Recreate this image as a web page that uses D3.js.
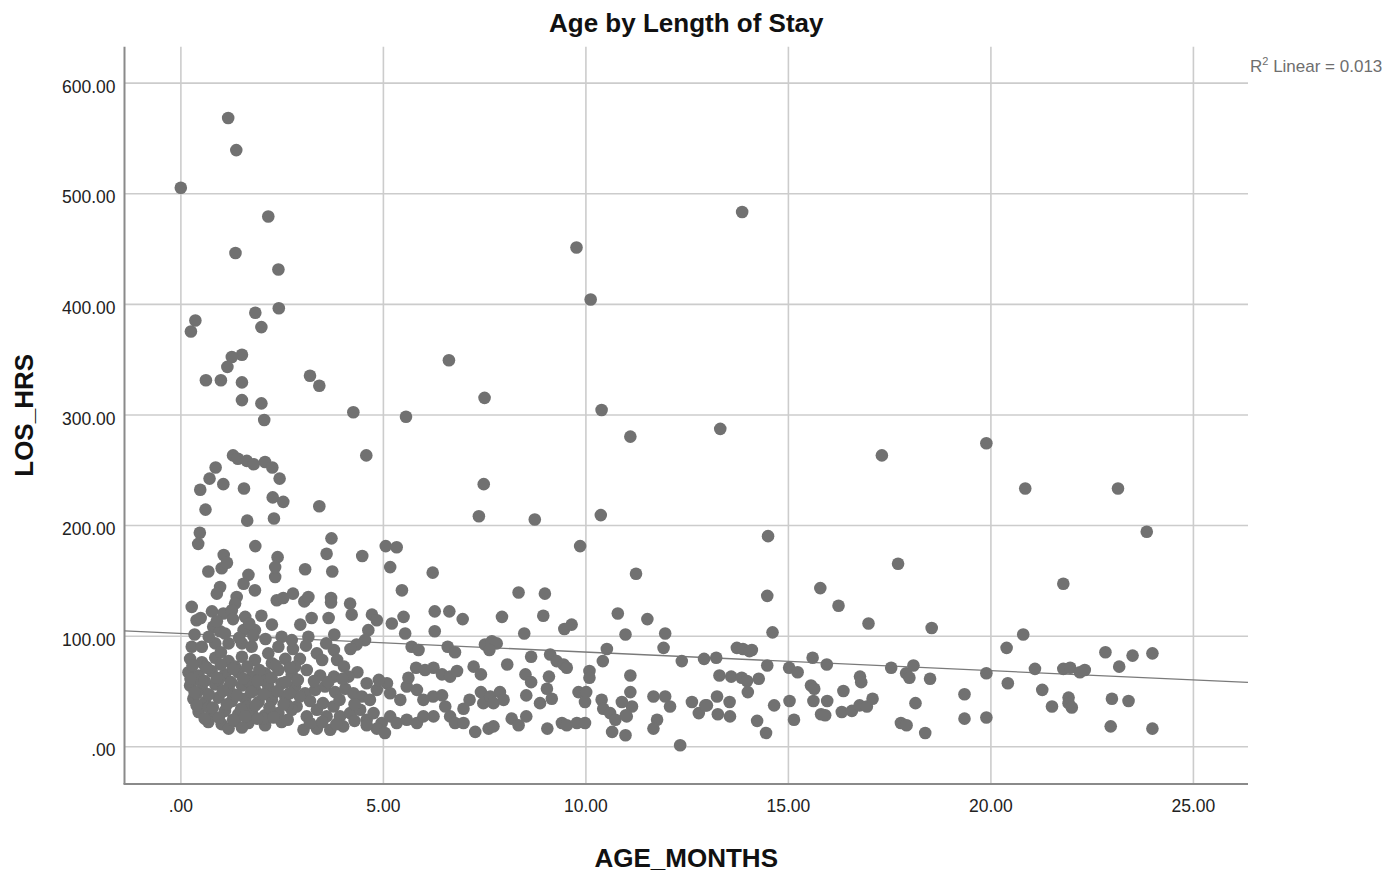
<!doctype html>
<html>
<head>
<meta charset="utf-8"/>
<title>Age by Length of Stay</title>
<script src="https://d3js.org/d3.v7.min.js"></script>
<style>
body { margin:0; background:#fff; }
text { font-family: "Liberation Sans", Arial, sans-serif; }
</style>
</head>
<body>
<script>
// tick values
var xTicks = [0, 5, 10, 15, 20, 25];
var yTicks = [0, 100, 200, 300, 400, 500, 600];

// fit line (R2 linear = 0.013)
var fitIntercept = 102.0;
var fitSlope = -1.68;
var r2Text = "0.013";

// [AGE_MONTHS, LOS_HRS]
var highCases = [
 [1.18,568],[1.38,539],[0.01,505],[2.17,479],[1.36,446],[2.42,431],[2.43,396],[1.85,392],[2.0,379],
 [0.37,385],[0.26,375],[1.52,354],[1.27,352],[1.16,343],[0.63,331],[1.0,331],[1.52,329],[3.2,335],
 [3.43,326],[1.52,313],[2.0,310],[2.07,295],[4.27,302],[5.57,298],[4.59,263],[1.30,263],[1.42,260],
 [1.64,258],[1.81,255],[2.09,257],[2.27,252],[2.45,242],[0.87,252],[0.72,242],[1.06,237],[0.49,232],
 [1.57,233],[2.28,225],[2.54,221],[3.43,217],[0.62,214],[1.65,204],[2.31,206],[0.48,193],[0.44,183],
 [1.85,181],[3.73,188],[3.61,174],[1.07,173],[2.40,171],[4.49,172],[5.07,181],[5.34,180],
 [13.87,483],[9.78,451],[10.13,404],[6.63,349],[7.51,315],[10.40,304],[11.11,280],[13.33,287],
 [17.32,263],[19.9,274],[7.49,237],[7.37,208],[8.75,205],[10.38,209],[9.87,181],[14.51,190],[17.72,165],
 [20.86,233],[23.15,233],[23.86,194],[21.8,147]
];

var olderCases = [
 [20.81,101],[20.4,89],[22.84,85],[23.51,82],[24.0,84],[21.1,70],[21.8,70],[21.97,71],[22.21,67],
 [22.33,69],[23.18,72],[20.43,57],[21.28,51],[21.52,36],[21.93,44],[21.93,39],[22.01,35],[23.0,43],
 [23.41,41],[22.97,18],[24.0,16],[19.9,66],[19.9,26],[19.36,25],[19.36,47],
 [14.49,136],[15.8,143],[16.25,127],[16.99,111],[18.55,107],[14.62,103],[13.74,89],[13.89,88],
 [14.05,86],[14.11,87],[12.93,79],[13.23,80],[14.49,73],[15.03,71],[15.24,67],[15.61,80],[15.96,74],
 [17.55,71],[17.92,66],[18.0,62],[18.1,73],[18.51,61],[13.31,64],[13.6,63],[13.86,62],[13.99,59],
 [14.28,61],[14.01,49],[15.57,55],[15.65,52],[16.78,63],[16.81,58],[16.37,50],[13.25,45],[13.56,40],
 [13.0,37],[12.8,30],[13.27,29],[13.57,27],[14.66,37],[15.04,41],[15.63,41],[15.97,41],[15.82,29],
 [15.92,28],[16.33,31],[16.58,32],[16.77,37],[16.95,36],[17.09,43],[18.15,39],[15.15,24],[14.24,23],
 [14.46,12],[17.79,21],[17.93,19],[18.39,12]
];

var midCases = [
 [6.23,157],[8.35,139],[9.0,138],[11.25,156],[6.28,122],[6.64,122],[6.97,115],[7.94,117],[8.96,118],
 [9.48,106],[9.66,110],[10.8,120],[11.53,115],[6.28,104],[8.49,102],[10.99,101],[11.97,102],[11.93,89],
 [6.6,90],[6.78,85],[7.52,92],[7.69,95],[7.81,93],[7.63,87],[8.66,81],[9.13,83],[9.29,77],[9.46,74],
 [9.54,71],[10.53,88],[10.43,77],[12.38,77],[6.25,71],[6.46,65],[6.66,63],[6.83,68],[7.24,72],
 [7.42,65],[8.07,74],[8.52,65],[8.66,58],[9.1,63],[9.05,52],[9.17,43],[10.1,68],[10.1,62],[11.11,64],
 [11.11,49],[11.15,36],[10.9,40],[11.02,27],[6.24,45],[6.46,46],[6.54,36],[6.25,27],[6.66,27],
 [6.78,21],[6.99,21],[6.99,34],[7.14,42],[7.42,49],[7.48,39],[7.65,45],[7.73,39],[7.89,49],[7.98,42],
 [8.18,25],[8.35,19],[8.54,27],[8.54,46],[8.88,39],[7.28,13],[7.61,16],[7.73,18],[9.06,16],[9.42,21],
 [9.54,19],[9.79,21],[9.99,21],[9.83,49],[10.02,49],[9.99,40],[10.4,42],[10.44,34],[10.61,30],
 [10.74,24],[10.66,13],[10.99,10],[11.0,28],[11.68,45],[11.97,45],[12.09,36],[11.77,24],[11.68,16],
 [12.34,1],[12.63,40],[12.96,37],
 [3.08,160],[3.75,158],[5.18,162],[5.47,141],[2.78,138],[3.06,131],[3.16,135],[3.72,134],[3.72,130],
 [4.19,129],[4.23,119],[3.24,116],[3.66,116],[4.73,119],[4.85,114],[5.22,111],[5.51,117],[2.96,110],
 [3.16,99],[3.8,101],[4.64,105],[4.56,96],[4.35,92],[5.55,102],[5.71,90],[5.88,87],[5.82,71],[6.04,69],
 [2.78,88],[2.95,79],[3.37,84],[3.5,78],[3.79,87],[3.87,78],[4.04,72],[4.37,67],[4.15,63],[3.79,63],
 [3.45,64],[3.12,69],[2.83,72],[2.83,54],[3.08,48],[3.33,51],[3.57,54],[3.82,49],[4.07,52],[4.27,48],
 [4.48,45],[4.68,42],[4.85,51],[5.1,57],[5.18,48],[5.43,42],[5.59,54],[5.63,62],[5.84,51],[6.0,42],
 [2.87,36],[3.12,27],[3.37,33],[3.61,27],[3.78,36],[3.94,27],[4.19,30],[4.44,33],[4.6,24],[4.77,30],
 [4.97,21],[5.18,27],[5.34,21],[5.59,24],[5.84,21],[6.0,27],[3.04,15],[3.37,16],[3.7,15],[4.02,18],
 [4.85,16],[5.05,12],
 [3.2,41],[3.52,39],[3.93,42],[4.3,38],[3.3,59],[3.65,58],[4.0,61],[4.6,57],[4.9,60],
 [3.2,21],[3.5,22],[3.85,20],[4.3,23],[4.6,19],[3.1,91],[3.6,93],[4.2,88]
];

var infantCases = [
 [0.69,158],[1.02,161],[1.15,166],[1.68,155],[1.56,147],[1.84,141],[2.34,153],[2.34,162],[0.98,144],
 [0.9,138],[1.39,135],[1.35,129],[2.38,132],[2.54,134],[0.28,126],[0.4,114],[0.78,122],[1.06,120],
 [1.27,123],[1.6,117],[1.84,105],[2.26,110],[0.81,108],[0.98,104],[1.56,105],[2.5,99],[2.75,96],
 [0.28,90],[0.53,90],[0.86,93],[1.19,93],[1.52,93],[1.76,90],[2.17,84],[2.42,90],
 [0.24,79],[0.53,76],[0.86,80],[1.19,77],[1.52,81],[1.84,78],[2.26,75],[2.59,79],
 [0.20,67],[0.45,64],[0.77,68],[1.10,65],[1.43,67],[1.76,63],[2.09,66],[2.42,69],[2.75,65],
 [0.24,55],[0.53,52],[0.86,56],[1.19,53],[1.52,55],[1.84,51],[2.17,54],[2.50,57],
 [0.32,43],[0.61,40],[0.94,44],[1.27,41],[1.60,43],[1.93,40],[2.26,42],[2.59,45],
 [0.45,31],[0.77,28],[1.10,32],[1.43,29],[1.76,31],[2.09,28],[2.42,30],[2.75,33],
 [0.69,22],[1.02,20],[1.35,23],[1.68,21],[2.09,19],[2.50,22],[1.19,16],[1.52,17],
 [0.62,72],[0.95,60],[1.3,47],[1.65,36],[2.0,60],[2.3,48],[0.4,48],[0.7,35],[1.0,85],[1.35,72],
 [1.7,58],[2.05,25],[2.65,37],[0.35,60],[2.9,60],[2.95,45],
 [0.3,73],[0.65,71],[1.0,74],[1.3,70],[1.65,72],[1.95,69],[2.35,73],[2.7,71],
 [0.25,61],[0.6,59],[0.9,62],[1.25,58],[1.55,61],[1.9,59],[2.25,62],[2.6,58],
 [0.35,49],[0.7,47],[1.05,50],[1.4,46],[1.75,49],[2.05,47],[2.4,50],[2.7,48],
 [0.4,37],[0.8,35],[1.15,38],[1.5,34],[1.85,37],[2.2,35],[2.55,38],
 [0.6,25],[0.95,26],[1.3,24],[1.6,27],[1.9,25],[2.3,26],[2.65,24],
 [0.35,101],[0.7,99],[1.1,102],[1.45,98],[1.8,100],[2.1,97],
 [0.5,116],[0.9,113],[1.3,115],[1.7,111],[2.0,118]
];

var cases = highCases.concat(olderCases, midCases, infantCases);

var plotL = 124.5, plotR = 1248, plotT = 46.7, plotB = 784;

var svg = d3.select("body").append("svg")
    .attr("width", 1399)
    .attr("height", 879);

var x = d3.scaleLinear().domain([-1.38, 26.36]).range([plotL, plotR]);
var y = d3.scaleLinear().domain([-34.1, 632.5]).range([plotB, plotT]);

function fmt(d) {
  return d === 0 ? ".00" : d3.format(".2f")(d);
}

// grid + tick labels
var gy = svg.append("g")
    .attr("transform", "translate(" + plotL + ",0)")
    .call(d3.axisLeft(y).tickValues(yTicks).tickFormat(fmt)
        .tickSize(-(plotR - plotL)).tickPadding(9));
var gx = svg.append("g")
    .attr("transform", "translate(0," + plotB + ")")
    .call(d3.axisBottom(x).tickValues(xTicks).tickFormat(fmt)
        .tickSize(-(plotB - plotT)).tickPadding(16));

[gx, gy].forEach(function (g) {
  g.select(".domain").remove();
  g.selectAll(".tick line").attr("stroke", "#cccccc").attr("stroke-width", 1.6);
  g.selectAll(".tick text")
    .attr("fill", "#222")
    .style("font-size", "17.5px")
    .style("font-family", "'Liberation Sans', Arial, sans-serif");
});
gy.selectAll(".tick text").attr("dy", "0.55em");

// axis lines
svg.append("line").attr("x1", plotL).attr("x2", plotL).attr("y1", plotT).attr("y2", plotB)
  .attr("stroke", "#8a8a8a").attr("stroke-width", 2);
svg.append("line").attr("x1", plotL - 1).attr("x2", plotR).attr("y1", plotB).attr("y2", plotB)
  .attr("stroke", "#8a8a8a").attr("stroke-width", 2);

// fit line
var xd = x.domain();
svg.append("line")
  .attr("x1", x(xd[0])).attr("y1", y(fitIntercept + fitSlope * xd[0]))
  .attr("x2", x(xd[1])).attr("y2", y(fitIntercept + fitSlope * xd[1]))
  .attr("stroke", "#7a7a7a").attr("stroke-width", 1.3);

// points
svg.append("g").selectAll("circle")
  .data(cases)
  .enter().append("circle")
  .attr("cx", function (d) { return x(d[0]); })
  .attr("cy", function (d) { return y(d[1]); })
  .attr("r", 6.3)
  .attr("fill", "#717171");

// titles
svg.append("text")
  .attr("x", (plotL + plotR) / 2).attr("y", 32)
  .attr("text-anchor", "middle")
  .style("font-size", "26px").style("font-weight", "bold")
  .attr("fill", "#111")
  .text("Age by Length of Stay");

svg.append("text")
  .attr("x", (plotL + plotR) / 2).attr("y", 867)
  .attr("text-anchor", "middle")
  .style("font-size", "26px").style("font-weight", "bold")
  .attr("fill", "#111")
  .text("AGE_MONTHS");

svg.append("text")
  .attr("transform", "translate(33," + ((plotT + plotB) / 2) + ") rotate(-90)")
  .attr("text-anchor", "middle")
  .style("font-size", "26px").style("font-weight", "bold")
  .attr("fill", "#111")
  .text("LOS_HRS");

// R2 label
var r2 = svg.append("text")
  .attr("x", 1250).attr("y", 71.5)
  .attr("fill", "#6e6e6e")
  .style("font-size", "17px");
r2.append("tspan").text("R");
r2.append("tspan").attr("dy", -7).style("font-size", "11px").text("2");
r2.append("tspan").attr("dy", 7).text(" Linear = " + r2Text);
</script>
</body>
</html>
